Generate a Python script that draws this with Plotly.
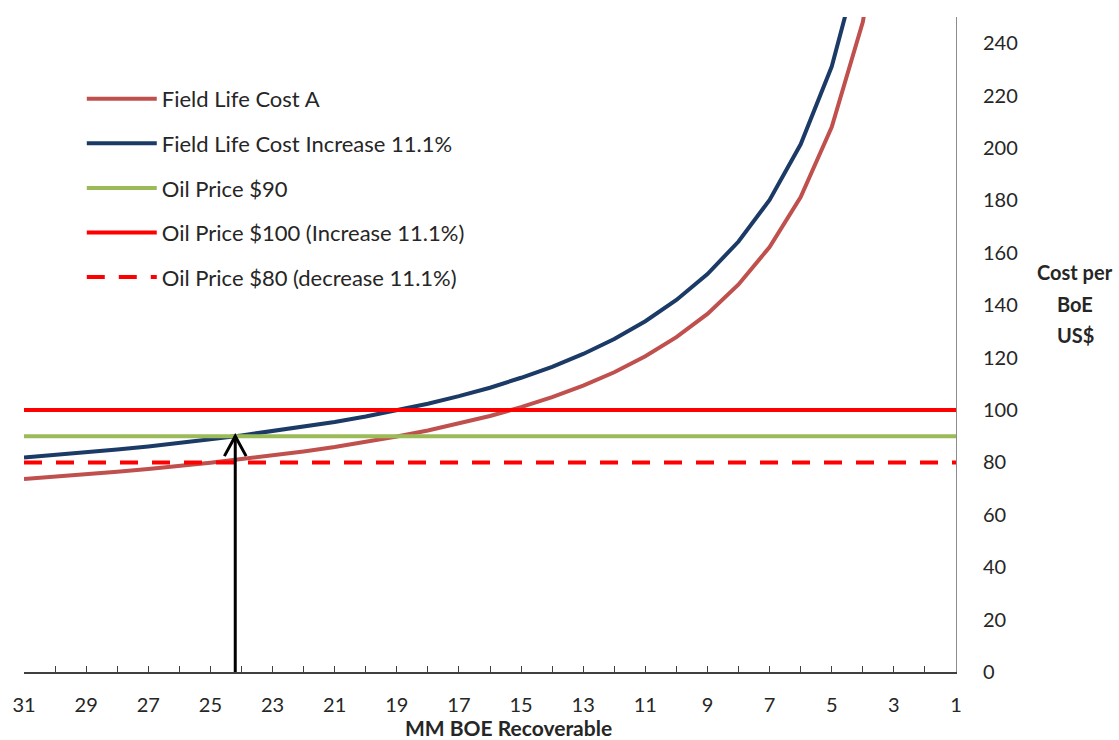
import numpy as np
import plotly.graph_objects as go

# MM BOE recoverable (x) and field-life cost per BoE (US$)
reserves = [31, 30, 29, 28, 27, 26, 25, 24, 23, 22, 21, 20, 19, 18, 17, 16,
            15, 14, 13, 12, 11, 10, 9, 8, 7, 6, 5, 4, 3]
cost_a = [73.7, 74.5, 75.5, 76.4, 77.5, 78.6, 79.9, 81.3, 82.7, 84.2, 85.9,
          87.8, 89.9, 92.2, 94.8, 97.7, 101.1, 104.9, 109.3, 114.4, 120.5,
          127.8, 136.7, 147.9, 162.2, 181.3, 208.0, 248.1, 315.0]
cost_up = [81.9, 82.8, 83.9, 84.9, 86.1, 87.3, 88.8, 90.3, 91.9, 93.5, 95.4,
           97.5, 99.9, 102.4, 105.3, 108.5, 112.3, 116.5, 121.4, 127.1, 133.9,
           142.0, 151.9, 164.3, 180.2, 201.4, 231.1, 275.6]

# Oil price reference levels
price_base = 90
price_high = 100
price_low = 80

x_ticks = list(range(31, 0, -2))
y_ticks = list(range(0, 241, 20))
x_span = [31, 1]
y_title_lines = ["Cost per", "BoE", "US$"]

FONT = "Lato"
TXT = "#262626"

fig = go.Figure()

fig.add_trace(go.Scatter(
    x=reserves, y=cost_a, mode="lines", name="Field Life Cost A",
    line=dict(color="#C0504D", width=4), legendgroup="a"))
fig.add_trace(go.Scatter(
    x=reserves[:len(cost_up)], y=cost_up, mode="lines",
    name="Field Life Cost Increase 11.1%",
    line=dict(color="#1B3A66", width=4), legendgroup="b"))
fig.add_trace(go.Scatter(
    x=x_span, y=[price_base] * 2, mode="lines", name="Oil Price $90",
    line=dict(color="#9BBB59", width=4), legendgroup="c"))
fig.add_trace(go.Scatter(
    x=x_span, y=[price_high] * 2, mode="lines",
    name="Oil Price $100 (Increase 11.1%)",
    line=dict(color="#FF0000", width=4), legendgroup="d"))
fig.add_trace(go.Scatter(
    x=x_span, y=[price_low] * 2, mode="lines",
    name="Oil Price $80 (decrease 11.1%)",
    line=dict(color="#FF0000", width=4, dash="18px,14px"), legendgroup="e"))

# Break-even point: where the increased cost curve meets the $90 price
xs = np.array(reserves[:len(cost_up)], dtype=float)
ys = np.array(cost_up, dtype=float)
order = np.argsort(ys)
x_cross = float(np.interp(price_base, ys[order], xs[order]))

fig.add_shape(type="line", xref="x", yref="y",
              x0=x_cross, x1=x_cross, y0=0, y1=price_base,
              line=dict(color="black", width=3))
hw, hh = 0.35, 7.6
fig.add_shape(type="path", xref="x", yref="y",
              path=f"M {x_cross + hw},{price_base - hh} L {x_cross},{price_base} "
                   f"L {x_cross - hw},{price_base - hh}",
              line=dict(color="black", width=3))

annotations = [
    dict(text="<b>MM BOE Recoverable</b>", xref="paper", yref="paper",
         x=0.52, y=-0.084, xanchor="center", yanchor="middle",
         showarrow=False, font=dict(family=FONT, size=21, color=TXT)),
]
for i, line_txt in enumerate(y_title_lines):
    annotations.append(dict(
        text=f"<b>{line_txt}</b>", xref="paper", yref="paper",
        x=1.128, y=0.61 - i * 0.048, xanchor="center", yanchor="middle",
        showarrow=False, font=dict(family=FONT, size=20, color=TXT)))

fig.update_layout(
    width=1119, height=740,
    margin=dict(l=24, r=163, t=17, b=68),
    paper_bgcolor="white", plot_bgcolor="white",
    font=dict(family=FONT, size=20, color=TXT),
    showlegend=True,
    legend=dict(x=0.062, y=0.907, xanchor="left", yanchor="top",
                bgcolor="rgba(0,0,0,0)", font=dict(family=FONT, size=22, color=TXT),
                itemwidth=70, tracegroupgap=13),
    xaxis=dict(range=x_span, tickvals=x_ticks, ticktext=[str(v) for v in x_ticks],
               ticks="inside", ticklen=6, tickcolor="#404040", tickwidth=1,
               minor=dict(dtick=1, ticks="inside", ticklen=6,
                          tickcolor="#404040", tickwidth=1),
               showline=True, linecolor="#404040", linewidth=1.5,
               showgrid=False, zeroline=False, ticklabelstandoff=14,
               tickfont=dict(family=FONT, size=20, color=TXT)),
    yaxis=dict(range=[0, 250], side="right", tickvals=y_ticks,
               showline=True, linecolor="#8C8C8C", linewidth=1,
               ticks="", showgrid=False, zeroline=False, ticklabelstandoff=22,
               tickfont=dict(family=FONT, size=20, color=TXT)),
    annotations=annotations,
)

fig.write_html("out.html")
